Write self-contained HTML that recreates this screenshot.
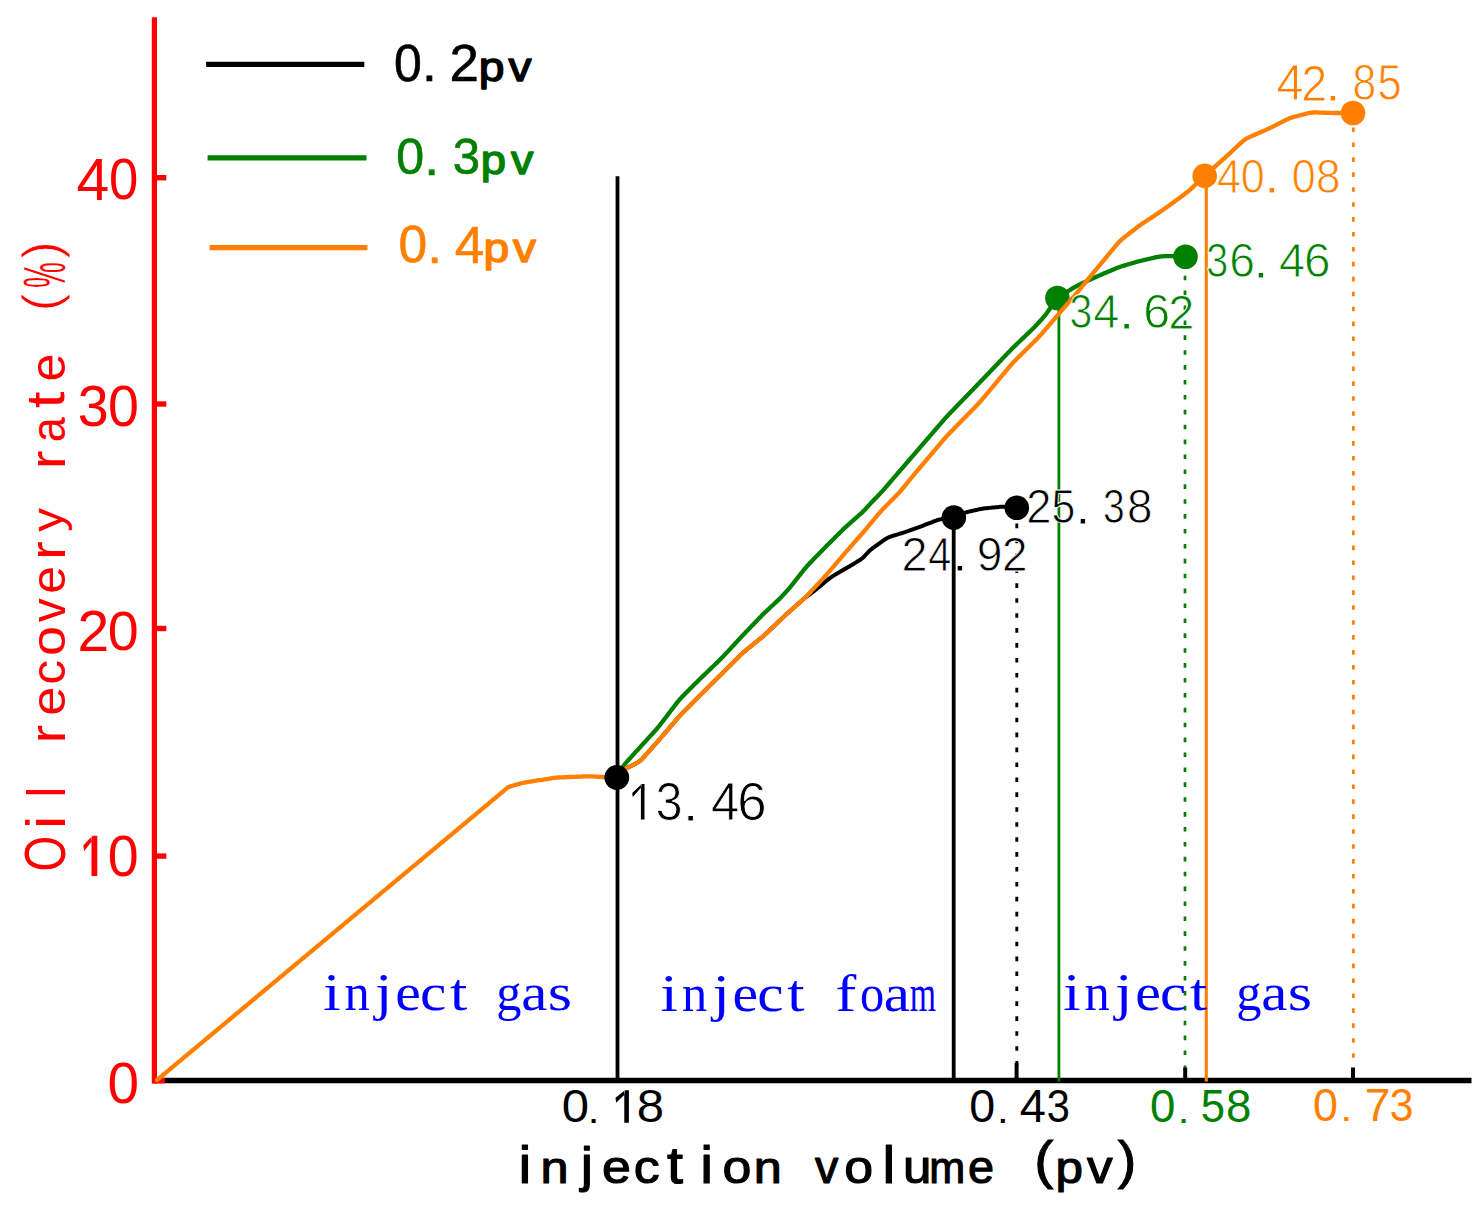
<!DOCTYPE html>
<html><head><meta charset="utf-8"><title>Oil recovery rate vs injection volume</title>
<style>html,body{margin:0;padding:0;background:#fff;}svg{display:block;}body{font-family:"Liberation Sans",sans-serif;}</style>
</head><body>
<svg width="1479" height="1207" viewBox="0 0 1479 1207"><rect width="100%" height="100%" fill="#fff"/><line x1="155" y1="1080.5" x2="1471.5" y2="1080.5" stroke="#000000" stroke-width="5.5"/>
<line x1="154.4" y1="17.3" x2="154.4" y2="1083.4" stroke="#ff0000" stroke-width="5.2"/>
<line x1="156" y1="177.7" x2="166.3" y2="177.7" stroke="#ff0000" stroke-width="5.4"/>
<line x1="156" y1="404" x2="166.3" y2="404" stroke="#ff0000" stroke-width="5.4"/>
<line x1="156" y1="628.5" x2="166.3" y2="628.5" stroke="#ff0000" stroke-width="5.4"/>
<line x1="156" y1="856.1" x2="166.3" y2="856.1" stroke="#ff0000" stroke-width="5.4"/>
<line x1="152" y1="1080.6" x2="165" y2="1080.6" stroke="#ff0000" stroke-width="5.4"/>
<line x1="617.5" y1="176.2" x2="617.5" y2="1081.5" stroke="#000000" stroke-width="3.8"/>
<line x1="953.7" y1="518" x2="953.7" y2="1081.5" stroke="#000000" stroke-width="3.8"/>
<line x1="1016.8" y1="523.6" x2="1016.8" y2="1080" stroke="#000000" stroke-width="2.9" stroke-dasharray="4.6 10.33"/>
<line x1="1058.9" y1="299" x2="1058.9" y2="1081.5" stroke="#008000" stroke-width="2.8"/>
<line x1="1185" y1="275.7" x2="1185" y2="1080" stroke="#008000" stroke-width="2.7" stroke-dasharray="4.6 10.3"/>
<line x1="1206.3" y1="176" x2="1206.3" y2="1081.5" stroke="#ff8000" stroke-width="3.1"/>
<line x1="1353.4" y1="127.5" x2="1353.4" y2="1080" stroke="#ff8000" stroke-width="2.7" stroke-dasharray="4.6 10.33"/>
<line x1="1016.6" y1="1063" x2="1016.6" y2="1080" stroke="#000000" stroke-width="4"/>
<line x1="1185.2" y1="1067.5" x2="1185.2" y2="1080" stroke="#000000" stroke-width="4"/>
<line x1="1353" y1="1067.5" x2="1353" y2="1080" stroke="#000000" stroke-width="4"/>
<polyline points="617,777 618.06,775.94 619.13,774.87 620.19,773.81 621.26,772.76 622.34,771.72 623.44,770.71 624.58,769.76 625.78,768.88 627.02,768.07 628.32,767.33 629.64,766.63 630.98,765.95 632.33,765.29 633.67,764.62 635.01,763.94 636.34,763.24 637.63,762.51 638.87,761.7 640.05,760.81 641.16,759.84 642.21,758.79 643.24,757.7 644.25,756.59 645.25,755.47 646.25,754.34 647.25,753.22 648.24,752.1 649.24,750.97 650.24,749.85 651.24,748.72 652.24,747.6 653.24,746.48 654.23,745.35 655.23,744.23 656.23,743.1 657.23,741.98 658.22,740.85 659.21,739.72 660.2,738.59 661.18,737.45 662.16,736.31 663.14,735.17 664.12,734.03 665.09,732.88 666.07,731.74 667.04,730.6 668.02,729.45 669,728.31 669.97,727.16 670.95,726.02 671.92,724.88 672.9,723.73 673.88,722.59 674.85,721.45 675.83,720.31 676.81,719.17 677.8,718.03 678.79,716.91 679.81,715.8 680.84,714.71 681.88,713.63 682.94,712.56 683.99,711.49 685.05,710.42 686.11,709.36 687.17,708.29 688.23,707.22 689.3,706.16 690.36,705.09 691.42,704.03 692.48,702.96 693.54,701.9 694.6,700.83 695.66,699.77 696.72,698.7 697.78,697.64 698.84,696.57 699.9,695.51 700.96,694.44 702.03,693.38 703.09,692.32 704.16,691.26 705.22,690.2 706.29,689.14 707.35,688.08 708.42,687.02 709.48,685.96 710.55,684.89 711.61,683.83 712.68,682.77 713.75,681.71 714.81,680.65 715.88,679.59 716.94,678.53 718.01,677.47 719.07,676.41 720.14,675.35 721.2,674.29 722.27,673.23 723.33,672.17 724.4,671.1 725.46,670.04 726.52,668.98 727.58,667.91 728.65,666.85 729.71,665.79 730.77,664.73 731.84,663.66 732.9,662.6 733.96,661.54 735.03,660.47 736.09,659.41 737.15,658.35 738.22,657.29 739.28,656.23 740.36,655.18 741.44,654.14 742.55,653.12 743.67,652.13 744.82,651.16 745.97,650.2 747.14,649.25 748.31,648.3 749.47,647.36 750.64,646.41 751.81,645.46 752.98,644.52 754.15,643.57 755.32,642.63 756.49,641.68 757.65,640.74 758.82,639.79 759.99,638.84 761.15,637.89 762.31,636.93 763.45,635.95 764.57,634.96 765.69,633.95 766.79,632.92 767.88,631.89 768.97,630.86 770.06,629.82 771.14,628.78 772.23,627.74 773.32,626.7 774.41,625.67 775.49,624.63 776.58,623.59 777.67,622.55 778.75,621.51 779.84,620.48 780.93,619.44 782.02,618.41 783.12,617.38 784.22,616.36 785.33,615.34 786.44,614.33 787.56,613.33 788.68,612.32 789.8,611.32 790.92,610.32 792.04,609.31 793.16,608.31 794.28,607.31 795.4,606.31 796.52,605.3 797.64,604.3 798.76,603.3 799.88,602.3 801,601.3 802.13,600.3 803.26,599.31 804.4,598.33 805.55,597.37 806.73,596.45 807.93,595.54 809.14,594.65 810.36,593.78 811.58,592.9 812.79,592.01 813.99,591.11 815.18,590.18 816.35,589.24 817.51,588.28 818.66,587.32 819.81,586.35 820.96,585.39 822.11,584.42 823.26,583.45 824.41,582.48 825.56,581.51 826.72,580.55 827.88,579.61 829.06,578.68 830.27,577.8 831.51,576.96 832.78,576.15 834.06,575.37 835.35,574.61 836.65,573.85 837.95,573.09 839.25,572.33 840.55,571.58 841.84,570.82 843.14,570.06 844.44,569.3 845.73,568.53 847.02,567.76 848.31,566.99 849.6,566.22 850.89,565.45 852.18,564.68 853.47,563.91 854.76,563.13 856.05,562.36 857.34,561.58 858.62,560.8 859.88,560 861.11,559.16 862.29,558.26 863.41,557.28 864.46,556.24 865.47,555.14 866.47,554.02 867.46,552.9 868.49,551.82 869.56,550.78 870.69,549.8 871.85,548.86 873.04,547.95 874.25,547.06 875.47,546.17 876.68,545.29 877.9,544.41 879.11,543.52 880.33,542.64 881.55,541.76 882.77,540.88 883.99,540.02 885.24,539.19 886.51,538.42 887.82,537.74 889.18,537.14 890.57,536.61 891.99,536.14 893.43,535.69 894.86,535.25 896.3,534.81 897.74,534.38 899.18,533.94 900.62,533.5 902.05,533.06 903.49,532.61 904.92,532.15 906.34,531.68 907.76,531.18 909.18,530.68 910.59,530.17 912.01,529.65 913.42,529.14 914.83,528.62 916.24,528.1 917.65,527.59 919.06,527.07 920.47,526.55 921.88,526.03 923.29,525.51 924.7,524.98 926.1,524.44 927.51,523.9 928.91,523.36 930.31,522.82 931.72,522.28 933.12,521.74 934.52,521.21 935.93,520.69 937.35,520.2 938.77,519.76 940.22,519.39 941.68,519.09 943.16,518.85 944.64,518.65 946.13,518.46 947.63,518.29 949.12,518.12 950.61,517.94 952.11,517.77 953.6,517.6 954.98,517 956.36,516.4 957.74,515.8 959.12,515.2 960.5,514.61 961.89,514.02 963.28,513.46 964.68,512.92 966.1,512.44 967.53,512.01 968.98,511.63 970.44,511.27 971.91,510.93 973.37,510.6 974.84,510.27 976.31,509.95 977.78,509.62 979.25,509.31 980.72,509.02 982.2,508.76 983.69,508.54 985.18,508.35 986.67,508.18 988.17,508.02 989.66,507.87 991.16,507.73 992.66,507.58 994.15,507.43 995.65,507.28 997.15,507.14 998.65,506.99 1000.14,506.86 1001.64,506.74 1003.14,506.66 1004.63,506.64 1006.13,506.68 1007.63,506.78 1009.12,506.91 1010.62,507.06 1012.11,507.21 1013.61,507.38 1015.1,507.54 1016.6,507.7" fill="none" stroke="#000000" stroke-width="4.0" stroke-linejoin="round" stroke-linecap="round"/>
<polyline points="617,777 617.72,775.68 618.45,774.37 619.17,773.05 619.9,771.74 620.63,770.43 621.38,769.13 622.16,767.85 622.98,766.6 623.84,765.39 624.75,764.21 625.71,763.05 626.69,761.92 627.69,760.8 628.69,759.69 629.71,758.58 630.72,757.47 631.73,756.36 632.74,755.25 633.76,754.14 634.77,753.03 635.78,751.92 636.8,750.81 637.81,749.7 638.82,748.6 639.84,747.49 640.85,746.38 641.86,745.27 642.88,744.16 643.89,743.05 644.9,741.94 645.91,740.83 646.93,739.72 647.94,738.61 648.95,737.5 649.97,736.39 650.98,735.29 651.99,734.18 653.01,733.07 654.02,731.95 655.02,730.84 656.02,729.72 657,728.58 657.97,727.44 658.93,726.28 659.86,725.11 660.79,723.92 661.7,722.73 662.62,721.54 663.53,720.35 664.44,719.15 665.35,717.96 666.26,716.76 667.17,715.57 668.08,714.37 668.99,713.18 669.91,711.98 670.82,710.79 671.73,709.59 672.64,708.4 673.55,707.21 674.46,706.01 675.37,704.82 676.29,703.63 677.22,702.45 678.16,701.28 679.12,700.13 680.1,699 681.12,697.89 682.15,696.8 683.19,695.73 684.25,694.66 685.31,693.59 686.37,692.53 687.43,691.47 688.49,690.41 689.56,689.34 690.62,688.28 691.68,687.22 692.74,686.16 693.8,685.1 694.87,684.03 695.93,682.97 697,681.91 698.06,680.86 699.13,679.8 700.21,678.75 701.29,677.71 702.37,676.66 703.45,675.62 704.53,674.58 705.62,673.54 706.7,672.5 707.79,671.46 708.87,670.42 709.96,669.38 711.04,668.34 712.13,667.3 713.21,666.27 714.29,665.23 715.38,664.19 716.46,663.15 717.54,662.1 718.62,661.05 719.69,660 720.75,658.94 721.8,657.86 722.84,656.78 723.87,655.69 724.9,654.59 725.92,653.49 726.94,652.39 727.96,651.29 728.98,650.19 730,649.08 731.03,647.98 732.05,646.88 733.07,645.78 734.09,644.68 735.11,643.57 736.13,642.47 737.15,641.37 738.17,640.27 739.2,639.17 740.22,638.07 741.25,636.97 742.28,635.88 743.31,634.79 744.34,633.7 745.38,632.62 746.42,631.53 747.47,630.45 748.51,629.37 749.55,628.29 750.59,627.2 751.64,626.12 752.68,625.04 753.72,623.96 754.76,622.88 755.81,621.8 756.85,620.72 757.89,619.63 758.94,618.55 759.98,617.47 761.03,616.4 762.08,615.33 763.14,614.26 764.21,613.21 765.29,612.16 766.38,611.13 767.47,610.1 768.57,609.08 769.67,608.05 770.77,607.03 771.88,606.01 772.98,604.99 774.08,603.97 775.18,602.95 776.28,601.93 777.37,600.9 778.46,599.86 779.53,598.8 780.58,597.74 781.62,596.65 782.65,595.56 783.67,594.45 784.68,593.35 785.69,592.23 786.7,591.12 787.7,590 788.69,588.87 789.67,587.73 790.64,586.59 791.59,585.42 792.53,584.26 793.47,583.08 794.4,581.9 795.33,580.72 796.25,579.54 797.18,578.36 798.11,577.18 799.04,576 799.97,574.82 800.9,573.63 801.82,572.45 802.76,571.28 803.69,570.1 804.64,568.93 805.59,567.78 806.57,566.64 807.57,565.52 808.59,564.42 809.62,563.33 810.66,562.25 811.71,561.17 812.75,560.09 813.8,559.02 814.85,557.94 815.9,556.86 816.95,555.79 818,554.71 819.05,553.64 820.1,552.56 821.15,551.49 822.2,550.41 823.25,549.34 824.3,548.27 825.35,547.19 826.4,546.12 827.46,545.06 828.52,543.99 829.58,542.92 830.64,541.86 831.7,540.8 832.76,539.74 833.83,538.67 834.89,537.61 835.95,536.55 837.01,535.49 838.07,534.43 839.14,533.36 840.2,532.3 841.27,531.24 842.34,530.19 843.42,529.15 844.5,528.11 845.6,527.09 846.72,526.08 847.84,525.08 848.97,524.09 850.1,523.1 851.23,522.12 852.37,521.13 853.5,520.15 854.63,519.16 855.77,518.18 856.9,517.19 858.03,516.2 859.16,515.21 860.28,514.21 861.38,513.2 862.47,512.16 863.53,511.1 864.56,510.02 865.58,508.92 866.59,507.81 867.6,506.69 868.61,505.58 869.62,504.47 870.65,503.38 871.68,502.29 872.72,501.2 873.77,500.13 874.82,499.05 875.86,497.97 876.91,496.9 877.96,495.82 879,494.73 880.03,493.64 881.05,492.54 882.06,491.43 883.06,490.31 884.06,489.18 885.04,488.05 886.02,486.92 887.01,485.78 887.99,484.64 888.97,483.5 889.95,482.36 890.93,481.23 891.91,480.09 892.89,478.95 893.87,477.81 894.85,476.67 895.83,475.54 896.81,474.4 897.79,473.26 898.77,472.12 899.76,470.98 900.74,469.85 901.72,468.71 902.7,467.57 903.68,466.43 904.66,465.29 905.64,464.16 906.62,463.02 907.6,461.88 908.58,460.74 909.56,459.6 910.54,458.47 911.52,457.33 912.5,456.19 913.49,455.05 914.47,453.92 915.45,452.78 916.43,451.64 917.41,450.5 918.39,449.36 919.37,448.23 920.35,447.09 921.33,445.95 922.31,444.81 923.3,443.68 924.28,442.54 925.26,441.4 926.24,440.26 927.22,439.13 928.2,437.99 929.18,436.85 930.16,435.71 931.14,434.57 932.13,433.44 933.11,432.3 934.09,431.16 935.07,430.02 936.05,428.89 937.03,427.75 938.01,426.61 938.99,425.47 939.97,424.34 940.96,423.2 941.94,422.06 942.92,420.93 943.91,419.8 944.9,418.67 945.91,417.55 946.92,416.44 947.94,415.35 948.98,414.25 950.02,413.17 951.06,412.09 952.1,411.01 953.15,409.93 954.19,408.85 955.23,407.77 956.28,406.69 957.32,405.61 958.37,404.53 959.41,403.45 960.46,402.37 961.5,401.29 962.55,400.21 963.59,399.13 964.64,398.05 965.68,396.97 966.73,395.89 967.77,394.81 968.82,393.74 969.86,392.66 970.91,391.58 971.95,390.5 973,389.42 974.04,388.34 975.08,387.26 976.13,386.18 977.17,385.1 978.22,384.02 979.26,382.94 980.3,381.85 981.34,380.77 982.38,379.68 983.42,378.6 984.46,377.51 985.5,376.43 986.53,375.34 987.57,374.26 988.61,373.17 989.65,372.09 990.69,371 991.73,369.92 992.77,368.83 993.8,367.74 994.84,366.66 995.88,365.57 996.92,364.49 997.96,363.4 999,362.32 1000.04,361.23 1001.07,360.15 1002.11,359.06 1003.15,357.98 1004.19,356.89 1005.23,355.8 1006.27,354.72 1007.31,353.63 1008.35,352.55 1009.39,351.47 1010.43,350.39 1011.48,349.31 1012.54,348.25 1013.61,347.19 1014.68,346.14 1015.76,345.09 1016.84,344.05 1017.93,343.01 1019.01,341.98 1020.1,340.94 1021.18,339.9 1022.27,338.86 1023.36,337.83 1024.44,336.79 1025.53,335.75 1026.62,334.71 1027.7,333.67 1028.79,332.64 1029.87,331.6 1030.96,330.56 1032.04,329.51 1033.11,328.46 1034.17,327.4 1035.22,326.33 1036.26,325.24 1037.28,324.15 1038.3,323.04 1039.32,321.93 1040.33,320.82 1041.33,319.71 1042.33,318.58 1043.31,317.45 1044.27,316.3 1045.21,315.13 1046.12,313.94 1047.01,312.73 1047.89,311.52 1048.76,310.29 1049.63,309.06 1050.49,307.84 1051.36,306.61 1052.22,305.38 1053.08,304.15 1053.95,302.92 1054.81,301.69 1055.67,300.46 1056.54,299.23 1057.4,298 1058.67,297.2 1059.93,296.39 1061.2,295.59 1062.47,294.79 1063.74,293.99 1065,293.18 1066.27,292.38 1067.54,291.58 1068.81,290.77 1070.07,289.97 1071.34,289.17 1072.62,288.38 1073.9,287.6 1075.19,286.84 1076.5,286.11 1077.82,285.41 1079.15,284.73 1080.5,284.08 1081.86,283.44 1083.22,282.81 1084.58,282.18 1085.94,281.55 1087.31,280.92 1088.67,280.3 1090.03,279.67 1091.39,279.04 1092.76,278.42 1094.12,277.79 1095.49,277.17 1096.86,276.56 1098.23,275.95 1099.6,275.35 1100.98,274.75 1102.36,274.16 1103.74,273.57 1105.12,272.99 1106.5,272.4 1107.88,271.82 1109.26,271.23 1110.65,270.65 1112.03,270.06 1113.41,269.48 1114.79,268.91 1116.18,268.34 1117.58,267.79 1118.98,267.26 1120.39,266.76 1121.81,266.29 1123.24,265.84 1124.68,265.4 1126.11,264.98 1127.55,264.55 1128.99,264.13 1130.43,263.71 1131.87,263.29 1133.32,262.88 1134.76,262.46 1136.2,262.05 1137.65,261.65 1139.09,261.26 1140.55,260.89 1142,260.52 1143.46,260.17 1144.92,259.83 1146.38,259.49 1147.84,259.15 1149.3,258.81 1150.76,258.47 1152.23,258.13 1153.69,257.8 1155.15,257.47 1156.62,257.15 1158.08,256.86 1159.55,256.61 1161.03,256.42 1162.52,256.29 1164.01,256.21 1165.5,256.17 1167,256.16 1168.5,256.17 1170,256.18 1171.5,256.19 1173,256.2 1174.5,256.21 1176,256.22 1177.5,256.24 1179,256.25 1180.5,256.26 1182,256.27 1183.5,256.29 1185,256.3" fill="none" stroke="#008000" stroke-width="4.3" stroke-linejoin="round" stroke-linecap="round"/>
<circle cx="1057.4" cy="298" r="12.3" fill="#008000"/>
<polyline points="157,1080 158.15,1079.04 159.3,1078.08 160.46,1077.12 161.61,1076.16 162.76,1075.2 163.91,1074.24 165.06,1073.28 166.22,1072.31 167.37,1071.35 168.52,1070.39 169.67,1069.43 170.83,1068.47 171.98,1067.51 173.13,1066.55 174.28,1065.59 175.43,1064.63 176.59,1063.67 177.74,1062.71 178.89,1061.75 180.04,1060.79 181.19,1059.83 182.35,1058.87 183.5,1057.9 184.65,1056.94 185.8,1055.98 186.96,1055.02 188.11,1054.06 189.26,1053.1 190.41,1052.14 191.56,1051.18 192.72,1050.22 193.87,1049.26 195.02,1048.3 196.17,1047.34 197.32,1046.38 198.48,1045.42 199.63,1044.46 200.78,1043.5 201.93,1042.53 203.09,1041.57 204.24,1040.61 205.39,1039.65 206.54,1038.69 207.69,1037.73 208.85,1036.77 210,1035.81 211.15,1034.85 212.3,1033.89 213.45,1032.93 214.61,1031.97 215.76,1031.01 216.91,1030.05 218.06,1029.09 219.22,1028.12 220.37,1027.16 221.52,1026.2 222.67,1025.24 223.82,1024.28 224.98,1023.32 226.13,1022.36 227.28,1021.4 228.43,1020.44 229.58,1019.48 230.74,1018.52 231.89,1017.56 233.04,1016.6 234.19,1015.64 235.34,1014.68 236.5,1013.71 237.65,1012.75 238.8,1011.79 239.95,1010.83 241.11,1009.87 242.26,1008.91 243.41,1007.95 244.56,1006.99 245.71,1006.03 246.87,1005.07 248.02,1004.11 249.17,1003.15 250.32,1002.19 251.47,1001.23 252.63,1000.27 253.78,999.3 254.93,998.34 256.08,997.38 257.24,996.42 258.39,995.46 259.54,994.5 260.69,993.54 261.84,992.58 263,991.62 264.15,990.66 265.3,989.7 266.45,988.74 267.6,987.78 268.76,986.82 269.91,985.86 271.06,984.9 272.21,983.93 273.37,982.97 274.52,982.01 275.67,981.05 276.82,980.09 277.97,979.13 279.13,978.17 280.28,977.21 281.43,976.25 282.58,975.29 283.73,974.33 284.89,973.37 286.04,972.41 287.19,971.45 288.34,970.49 289.5,969.52 290.65,968.56 291.8,967.6 292.95,966.64 294.1,965.68 295.26,964.72 296.41,963.76 297.56,962.8 298.71,961.84 299.86,960.88 301.02,959.92 302.17,958.96 303.32,958 304.47,957.04 305.62,956.08 306.78,955.11 307.93,954.15 309.08,953.19 310.23,952.23 311.39,951.27 312.54,950.31 313.69,949.35 314.84,948.39 315.99,947.43 317.15,946.47 318.3,945.51 319.45,944.55 320.6,943.59 321.75,942.63 322.91,941.67 324.06,940.7 325.21,939.74 326.36,938.78 327.52,937.82 328.67,936.86 329.82,935.9 330.97,934.94 332.12,933.98 333.28,933.02 334.43,932.06 335.58,931.1 336.73,930.14 337.88,929.18 339.04,928.22 340.19,927.26 341.34,926.3 342.49,925.33 343.65,924.37 344.8,923.41 345.95,922.45 347.1,921.49 348.25,920.53 349.41,919.57 350.56,918.61 351.71,917.65 352.86,916.69 354.01,915.73 355.17,914.77 356.32,913.81 357.47,912.85 358.62,911.89 359.78,910.92 360.93,909.96 362.08,909 363.23,908.04 364.38,907.08 365.54,906.12 366.69,905.16 367.84,904.2 368.99,903.24 370.14,902.28 371.3,901.32 372.45,900.36 373.6,899.4 374.75,898.44 375.9,897.48 377.06,896.51 378.21,895.55 379.36,894.59 380.51,893.63 381.67,892.67 382.82,891.71 383.97,890.75 385.12,889.79 386.27,888.83 387.43,887.87 388.58,886.91 389.73,885.95 390.88,884.99 392.03,884.03 393.19,883.07 394.34,882.1 395.49,881.14 396.64,880.18 397.8,879.22 398.95,878.26 400.1,877.3 401.25,876.34 402.4,875.38 403.56,874.42 404.71,873.46 405.86,872.5 407.01,871.54 408.16,870.58 409.32,869.62 410.47,868.66 411.62,867.7 412.77,866.73 413.93,865.77 415.08,864.81 416.23,863.85 417.38,862.89 418.53,861.93 419.69,860.97 420.84,860.01 421.99,859.05 423.14,858.09 424.29,857.13 425.45,856.17 426.6,855.21 427.75,854.25 428.9,853.29 430.06,852.32 431.21,851.36 432.36,850.4 433.51,849.44 434.66,848.48 435.82,847.52 436.97,846.56 438.12,845.6 439.27,844.64 440.42,843.68 441.58,842.72 442.73,841.76 443.88,840.8 445.03,839.84 446.18,838.88 447.34,837.91 448.49,836.95 449.64,835.99 450.79,835.03 451.95,834.07 453.1,833.11 454.25,832.15 455.4,831.19 456.55,830.23 457.71,829.27 458.86,828.31 460.01,827.35 461.16,826.39 462.31,825.43 463.47,824.47 464.62,823.5 465.77,822.54 466.92,821.58 468.08,820.62 469.23,819.66 470.38,818.7 471.53,817.74 472.68,816.78 473.84,815.82 474.99,814.86 476.14,813.9 477.29,812.94 478.44,811.98 479.6,811.02 480.75,810.06 481.9,809.1 483.05,808.13 484.21,807.17 485.36,806.21 486.51,805.25 487.66,804.29 488.81,803.33 489.97,802.37 491.12,801.41 492.27,800.45 493.42,799.49 494.57,798.53 495.73,797.57 496.88,796.61 498.03,795.65 499.18,794.69 500.34,793.72 501.49,792.76 502.64,791.8 503.79,790.84 504.94,789.88 506.1,788.92 507.25,787.96 508.4,787 509.84,786.57 511.28,786.15 512.72,785.72 514.16,785.29 515.6,784.87 517.04,784.45 518.49,784.03 519.94,783.64 521.39,783.28 522.85,782.95 524.33,782.66 525.8,782.39 527.28,782.15 528.77,781.9 530.25,781.67 531.73,781.43 533.22,781.19 534.7,780.96 536.18,780.72 537.67,780.48 539.15,780.24 540.63,780.01 542.12,779.77 543.6,779.53 545.08,779.3 546.57,779.06 548.05,778.82 549.54,778.59 551.02,778.36 552.51,778.14 553.99,777.93 555.48,777.76 556.98,777.62 558.47,777.52 559.97,777.44 561.47,777.36 562.97,777.3 564.47,777.24 565.97,777.17 567.48,777.11 568.98,777.05 570.48,776.99 571.98,776.93 573.48,776.86 574.98,776.8 576.48,776.74 577.98,776.68 579.48,776.61 580.99,776.55 582.49,776.49 583.99,776.43 585.49,776.38 586.99,776.34 588.49,776.32 589.99,776.34 591.49,776.38 592.99,776.45 594.49,776.53 595.99,776.63 597.49,776.73 598.99,776.82 600.49,776.91 601.98,777 603.48,777.06 604.98,777.11 606.49,777.13 607.99,777.13 609.49,777.12 610.99,777.1 612.49,777.07 614,777.05 615.5,777.02 617,777 618.06,775.94 619.13,774.88 620.19,773.81 621.26,772.76 622.34,771.72 623.44,770.71 624.58,769.76 625.77,768.88 627.02,768.07 628.31,767.33 629.64,766.64 630.97,765.96 632.32,765.29 633.66,764.62 635,763.95 636.33,763.25 637.62,762.51 638.86,761.71 640.04,760.82 641.15,759.84 642.21,758.8 643.23,757.71 644.24,756.6 645.24,755.48 646.24,754.36 647.23,753.23 648.23,752.11 649.23,750.99 650.23,749.86 651.23,748.74 652.22,747.62 653.22,746.49 654.22,745.37 655.22,744.24 656.22,743.12 657.21,742 658.21,740.87 659.2,739.74 660.18,738.61 661.17,737.47 662.15,736.33 663.12,735.19 664.1,734.05 665.07,732.9 666.05,731.76 667.02,730.62 668,729.47 668.98,728.33 669.95,727.19 670.93,726.05 671.9,724.9 672.88,723.76 673.85,722.62 674.83,721.47 675.81,720.33 676.79,719.19 677.77,718.06 678.77,716.94 679.78,715.83 680.81,714.74 681.86,713.66 682.91,712.58 683.96,711.52 685.02,710.45 686.08,709.39 687.14,708.32 688.2,707.26 689.26,706.19 690.32,705.13 691.38,704.06 692.44,703 693.5,701.93 694.56,700.87 695.62,699.8 696.68,698.74 697.74,697.67 698.81,696.61 699.87,695.54 700.93,694.48 701.99,693.42 703.06,692.36 704.12,691.3 705.18,690.24 706.25,689.17 707.31,688.11 708.38,687.05 709.44,685.99 710.51,684.93 711.57,683.87 712.64,682.81 713.7,681.75 714.77,680.69 715.83,679.63 716.9,678.57 717.96,677.51 719.03,676.45 720.09,675.39 721.16,674.33 722.22,673.27 723.29,672.21 724.35,671.15 725.41,670.09 726.48,669.02 727.54,667.96 728.6,666.9 729.66,665.84 730.73,664.77 731.79,663.71 732.85,662.65 733.91,661.59 734.98,660.52 736.04,659.46 737.1,658.4 738.16,657.34 739.23,656.28 740.3,655.23 741.39,654.19 742.49,653.17 743.62,652.18 744.76,651.21 745.92,650.25 747.08,649.3 748.25,648.35 749.41,647.41 750.58,646.46 751.75,645.51 752.92,644.57 754.08,643.62 755.25,642.68 756.42,641.73 757.59,640.79 758.76,639.84 759.92,638.89 761.08,637.94 762.24,636.98 763.38,636.01 764.51,635.02 765.62,634.01 766.72,632.98 767.81,631.95 768.9,630.92 769.99,629.88 771.08,628.84 772.16,627.81 773.25,626.77 774.34,625.73 775.42,624.69 776.51,623.66 777.6,622.62 778.68,621.58 779.77,620.54 780.86,619.51 781.95,618.47 783.05,617.45 784.15,616.42 785.26,615.41 786.37,614.4 787.49,613.39 788.6,612.39 789.72,611.39 790.84,610.39 791.96,609.38 793.08,608.38 794.2,607.38 795.32,606.38 796.44,605.38 797.56,604.37 798.68,603.37 799.8,602.37 800.92,601.37 802.04,600.36 803.15,599.35 804.25,598.33 805.34,597.3 806.41,596.24 807.46,595.17 808.5,594.09 809.53,592.99 810.56,591.9 811.58,590.8 812.61,589.7 813.63,588.6 814.66,587.5 815.68,586.4 816.71,585.3 817.73,584.21 818.76,583.11 819.78,582.01 820.8,580.91 821.83,579.81 822.85,578.71 823.87,577.61 824.89,576.5 825.9,575.39 826.9,574.27 827.89,573.14 828.87,572 829.85,570.86 830.83,569.72 831.8,568.57 832.77,567.43 833.75,566.28 834.72,565.14 835.7,564 836.67,562.85 837.64,561.71 838.62,560.56 839.59,559.42 840.57,558.27 841.54,557.13 842.52,555.99 843.49,554.85 844.47,553.71 845.46,552.57 846.44,551.44 847.43,550.31 848.42,549.18 849.42,548.05 850.41,546.92 851.4,545.79 852.39,544.66 853.39,543.54 854.38,542.41 855.37,541.28 856.36,540.15 857.35,539.02 858.35,537.89 859.34,536.76 860.33,535.63 861.32,534.5 862.3,533.37 863.28,532.23 864.25,531.08 865.22,529.93 866.19,528.78 867.15,527.63 868.12,526.48 869.08,525.32 870.04,524.17 871.01,523.02 871.97,521.87 872.93,520.71 873.9,519.56 874.86,518.41 875.82,517.25 876.79,516.1 877.75,514.95 878.72,513.8 879.7,512.66 880.69,511.53 881.7,510.42 882.72,509.32 883.77,508.24 884.82,507.17 885.88,506.1 886.93,505.04 887.99,503.97 889.05,502.9 890.11,501.84 891.17,500.77 892.23,499.71 893.29,498.64 894.35,497.58 895.41,496.51 896.46,495.44 897.51,494.36 898.54,493.27 899.55,492.16 900.54,491.03 901.51,489.89 902.47,488.73 903.42,487.57 904.37,486.4 905.31,485.24 906.26,484.07 907.21,482.9 908.16,481.74 909.1,480.57 910.05,479.41 911.01,478.24 911.96,477.08 912.92,475.93 913.89,474.78 914.86,473.63 915.83,472.48 916.8,471.33 917.77,470.19 918.74,469.04 919.71,467.89 920.68,466.75 921.65,465.6 922.62,464.45 923.6,463.31 924.57,462.16 925.54,461.01 926.51,459.87 927.48,458.72 928.45,457.57 929.42,456.43 930.39,455.28 931.36,454.13 932.34,452.99 933.31,451.84 934.28,450.69 935.25,449.55 936.22,448.4 937.19,447.25 938.16,446.11 939.13,444.96 940.11,443.81 941.08,442.67 942.05,441.52 943.02,440.38 944,439.24 944.98,438.1 945.98,436.98 947,435.87 948.02,434.78 949.06,433.69 950.11,432.61 951.16,431.54 952.21,430.47 953.26,429.39 954.31,428.32 955.36,427.24 956.41,426.17 957.47,425.1 958.52,424.02 959.57,422.95 960.62,421.88 961.67,420.8 962.72,419.73 963.77,418.66 964.83,417.58 965.88,416.51 966.93,415.44 967.98,414.36 969.03,413.29 970.08,412.21 971.13,411.14 972.19,410.07 973.24,408.99 974.29,407.92 975.34,406.85 976.38,405.77 977.43,404.68 978.46,403.59 979.47,402.48 980.47,401.36 981.45,400.22 982.42,399.08 983.39,397.93 984.35,396.78 985.32,395.63 986.28,394.47 987.24,393.32 988.21,392.17 989.17,391.01 990.14,389.86 991.1,388.71 992.06,387.56 993.03,386.4 993.99,385.25 994.96,384.1 995.92,382.95 996.88,381.79 997.85,380.64 998.81,379.49 999.78,378.33 1000.74,377.18 1001.7,376.03 1002.67,374.88 1003.63,373.72 1004.6,372.57 1005.56,371.42 1006.52,370.27 1007.49,369.11 1008.45,367.96 1009.42,366.81 1010.39,365.67 1011.38,364.53 1012.38,363.41 1013.4,362.31 1014.44,361.23 1015.49,360.16 1016.55,359.1 1017.62,358.04 1018.69,356.98 1019.75,355.92 1020.82,354.87 1021.89,353.81 1022.96,352.75 1024.03,351.7 1025.1,350.64 1026.16,349.58 1027.23,348.53 1028.3,347.47 1029.37,346.41 1030.44,345.36 1031.51,344.3 1032.57,343.24 1033.64,342.19 1034.71,341.13 1035.78,340.07 1036.84,339.01 1037.9,337.94 1038.94,336.87 1039.97,335.77 1040.98,334.66 1041.98,333.53 1042.96,332.4 1043.94,331.26 1044.91,330.11 1045.88,328.97 1046.86,327.83 1047.83,326.68 1048.81,325.54 1049.78,324.39 1050.76,323.25 1051.73,322.11 1052.7,320.96 1053.68,319.82 1054.66,318.68 1055.63,317.54 1056.61,316.4 1057.59,315.26 1058.57,314.12 1059.55,312.98 1060.53,311.84 1061.51,310.7 1062.49,309.56 1063.47,308.42 1064.46,307.29 1065.44,306.15 1066.42,305.01 1067.4,303.87 1068.38,302.73 1069.36,301.59 1070.34,300.46 1071.32,299.32 1072.3,298.18 1073.28,297.04 1074.26,295.9 1075.24,294.76 1076.22,293.62 1077.19,292.47 1078.15,291.32 1079.11,290.16 1080.06,289 1081.01,287.83 1081.96,286.67 1082.91,285.51 1083.86,284.34 1084.81,283.18 1085.77,282.02 1086.72,280.85 1087.67,279.69 1088.62,278.53 1089.57,277.37 1090.53,276.21 1091.49,275.05 1092.45,273.89 1093.41,272.74 1094.37,271.58 1095.32,270.42 1096.28,269.27 1097.24,268.11 1098.2,266.95 1099.16,265.8 1100.12,264.64 1101.08,263.49 1102.04,262.33 1103,261.17 1103.96,260.02 1104.92,258.86 1105.88,257.7 1106.84,256.54 1107.79,255.39 1108.75,254.23 1109.71,253.07 1110.66,251.91 1111.62,250.75 1112.58,249.59 1113.53,248.43 1114.49,247.27 1115.45,246.12 1116.41,244.97 1117.39,243.83 1118.39,242.71 1119.42,241.63 1120.5,240.6 1121.62,239.61 1122.77,238.65 1123.94,237.71 1125.12,236.77 1126.3,235.84 1127.47,234.91 1128.65,233.98 1129.83,233.05 1131.01,232.12 1132.19,231.19 1133.37,230.26 1134.55,229.33 1135.74,228.4 1136.92,227.48 1138.12,226.57 1139.33,225.68 1140.56,224.82 1141.8,223.97 1143.05,223.14 1144.3,222.31 1145.56,221.49 1146.82,220.67 1148.08,219.85 1149.34,219.03 1150.6,218.21 1151.86,217.39 1153.11,216.57 1154.37,215.74 1155.62,214.91 1156.86,214.07 1158.1,213.22 1159.34,212.36 1160.57,211.5 1161.8,210.64 1163.04,209.78 1164.27,208.92 1165.5,208.06 1166.73,207.2 1167.96,206.34 1169.19,205.48 1170.42,204.61 1171.64,203.74 1172.86,202.86 1174.07,201.97 1175.28,201.08 1176.48,200.18 1177.69,199.28 1178.89,198.37 1180.09,197.47 1181.29,196.57 1182.49,195.67 1183.69,194.76 1184.89,193.86 1186.08,192.94 1187.27,192.02 1188.43,191.08 1189.58,190.11 1190.7,189.11 1191.81,188.1 1192.91,187.08 1194,186.04 1195.09,185.01 1196.18,183.98 1197.27,182.94 1198.36,181.91 1199.45,180.87 1200.54,179.84 1201.63,178.8 1202.72,177.77 1203.81,176.73 1204.9,175.7 1206.02,174.7 1207.14,173.7 1208.26,172.7 1209.38,171.7 1210.5,170.7 1211.62,169.7 1212.74,168.7 1213.86,167.7 1214.98,166.7 1216.1,165.7 1217.22,164.7 1218.34,163.7 1219.46,162.7 1220.58,161.7 1221.7,160.69 1222.81,159.68 1223.92,158.67 1225.02,157.65 1226.13,156.63 1227.23,155.62 1228.33,154.6 1229.43,153.58 1230.54,152.56 1231.64,151.54 1232.74,150.52 1233.84,149.5 1234.95,148.48 1236.05,147.46 1237.15,146.44 1238.25,145.42 1239.35,144.4 1240.46,143.38 1241.57,142.37 1242.69,141.38 1243.84,140.43 1245.03,139.54 1246.27,138.74 1247.56,138.01 1248.89,137.34 1250.25,136.71 1251.62,136.11 1253,135.51 1254.38,134.91 1255.75,134.31 1257.13,133.71 1258.51,133.12 1259.89,132.52 1261.26,131.92 1262.64,131.32 1264.02,130.72 1265.39,130.11 1266.76,129.5 1268.12,128.87 1269.48,128.22 1270.83,127.57 1272.17,126.9 1273.52,126.23 1274.86,125.56 1276.2,124.88 1277.54,124.21 1278.88,123.53 1280.23,122.86 1281.57,122.19 1282.91,121.51 1284.25,120.84 1285.6,120.17 1286.95,119.52 1288.31,118.89 1289.68,118.31 1291.08,117.79 1292.5,117.32 1293.94,116.89 1295.38,116.49 1296.83,116.11 1298.29,115.73 1299.74,115.35 1301.19,114.97 1302.65,114.6 1304.1,114.22 1305.55,113.85 1307.01,113.49 1308.47,113.15 1309.93,112.87 1311.4,112.65 1312.88,112.52 1314.37,112.47 1315.87,112.47 1317.37,112.5 1318.87,112.55 1320.37,112.6 1321.87,112.65 1323.37,112.7 1324.87,112.75 1326.37,112.8 1327.87,112.84 1329.37,112.89 1330.88,112.93 1332.38,112.96 1333.88,112.98 1335.38,112.99 1336.88,113 1338.38,113 1339.88,113 1341.39,113 1342.89,113 1344.39,113 1345.89,113 1347.39,113 1348.89,113 1350.4,113 1351.9,113 1353.4,113" fill="none" stroke="#ff8000" stroke-width="4.3" stroke-linejoin="round" stroke-linecap="round"/>
<circle cx="1185.5" cy="256.7" r="12.3" fill="#008000"/>
<circle cx="616.8" cy="777.5" r="12.4" fill="#000000"/>
<circle cx="953.8" cy="517.6" r="12.3" fill="#000000"/>
<circle cx="1016.8" cy="507.7" r="12.3" fill="#000000"/>
<circle cx="1204.7" cy="175.9" r="12.3" fill="#ff8000"/>
<circle cx="1353" cy="113" r="12.3" fill="#ff8000"/>
<line x1="206.1" y1="64.3" x2="364.3" y2="64.3" stroke="#000000" stroke-width="5.2"/>
<line x1="207.6" y1="157.9" x2="366.5" y2="157.9" stroke="#008000" stroke-width="5.2"/>
<line x1="209.6" y1="247.7" x2="367.4" y2="247.7" stroke="#ff8000" stroke-width="5.2"/>
<text transform="translate(76.45 199.6)" font-family="Liberation Sans" font-weight="normal" font-size="58.87" fill="#ff0000">4</text>
<text transform="translate(109.04 199.04) scale(0.92 1)" font-family="Liberation Sans" font-weight="normal" font-size="57.2" fill="#ff0000">0</text>
<text transform="translate(77.78 425.84) scale(0.97 1)" font-family="Liberation Sans" font-weight="normal" font-size="57.34" fill="#ff0000">3</text>
<text transform="translate(108.03 425.84) scale(0.97 1)" font-family="Liberation Sans" font-weight="normal" font-size="57.34" fill="#ff0000">0</text>
<text transform="translate(77.43 650.9)" font-family="Liberation Sans" font-weight="normal" font-size="57" fill="#ff0000">2</text>
<text transform="translate(107.82 650.35) scale(0.99 1)" font-family="Liberation Sans" font-weight="normal" font-size="56.21" fill="#ff0000">0</text>
<path d="M91.5,835.7H97.3V876.1H91.5Z M92.3,835.7L83.4,845.14L84,851.31L91.7,841.55Z" fill="#ff0000"/>
<text transform="translate(107.82 876.14) scale(0.97 1)" font-family="Liberation Sans" font-weight="normal" font-size="57.34" fill="#ff0000">0</text>
<text transform="translate(107.48 1103.14) scale(0.99 1)" font-family="Liberation Sans" font-weight="normal" font-size="57.34" fill="#ff0000">0</text>
<text transform="translate(561.78 1122.45) scale(1.06 1)" font-family="Liberation Sans" font-weight="normal" font-size="46.33" fill="#000000">0</text>
<text transform="translate(587.78 1122.8) scale(1.12 1)" font-family="Liberation Sans" font-weight="normal" font-size="37.41" fill="#000000">.</text>
<path d="M624.3,1090.2H628.9V1122.8H624.3Z M625.1,1090.2L615.5,1097.86L616.1,1102.75L624.5,1094.84Z" fill="#000000"/>
<text transform="translate(636.67 1122.45) scale(1.06 1)" font-family="Liberation Sans" font-weight="normal" font-size="46.33" fill="#000000">8</text>
<text transform="translate(969.17 1122.45) scale(1.01 1)" font-family="Liberation Sans" font-weight="normal" font-size="46.19" fill="#000000">0</text>
<text transform="translate(996.88 1122.8) scale(1.12 1)" font-family="Liberation Sans" font-weight="normal" font-size="37.41" fill="#000000">.</text>
<text transform="translate(1019.63 1122.4) scale(1.02 1)" font-family="Liberation Sans" font-weight="normal" font-size="46.08" fill="#000000">4</text>
<text transform="translate(1046.71 1122.45) scale(0.9 1)" font-family="Liberation Sans" font-weight="normal" font-size="46.19" fill="#000000">3</text>
<text transform="translate(1150.01 1122.44) scale(0.97 1)" font-family="Liberation Sans" font-weight="normal" font-size="47.03" fill="#008000">0</text>
<text transform="translate(1177.68 1122.8) scale(1.12 1)" font-family="Liberation Sans" font-weight="normal" font-size="37.41" fill="#008000">.</text>
<text transform="translate(1200.84 1122.44) scale(0.93 1)" font-family="Liberation Sans" font-weight="normal" font-size="47.01" fill="#008000">5</text>
<text transform="translate(1226.02 1122.44) scale(0.97 1)" font-family="Liberation Sans" font-weight="normal" font-size="47.03" fill="#008000">8</text>
<text transform="translate(1312.94 1120.94) scale(0.96 1)" font-family="Liberation Sans" font-weight="normal" font-size="46.75" fill="#ff8000">0</text>
<text transform="translate(1340.38 1121.3) scale(1.12 1)" font-family="Liberation Sans" font-weight="normal" font-size="37.41" fill="#ff8000">.</text>
<text transform="translate(1364.74 1120.9) scale(0.99 1)" font-family="Liberation Sans" font-weight="normal" font-size="46.66" fill="#ff8000">7</text>
<text transform="translate(1389.78 1120.94) scale(0.91 1)" font-family="Liberation Sans" font-weight="normal" font-size="46.75" fill="#ff8000">3</text>
<path d="M640.9,783.9H644.5V819.6H640.9Z M641.7,783.9L632.2,793.05L632.8,796.88L641.1,787.53Z" fill="#000000"/>
<text transform="translate(655.45 820.08) scale(0.91 1)" font-family="Liberation Sans" font-weight="normal" font-size="53.39" fill="#000000" stroke="#fff" stroke-width="0.9">3</text>
<text transform="translate(682.6 820.8) scale(1.12 1)" font-family="Liberation Sans" font-weight="normal" font-size="52.37" fill="#000000" stroke="#fff" stroke-width="0.9">.</text>
<text transform="translate(710.93 820.2) scale(0.95 1)" font-family="Liberation Sans" font-weight="normal" font-size="53.63" fill="#000000" stroke="#fff" stroke-width="0.9">4</text>
<text transform="translate(737.13 820.08) scale(0.99 1)" font-family="Liberation Sans" font-weight="normal" font-size="53.39" fill="#000000" stroke="#fff" stroke-width="0.9">6</text>
<text transform="translate(901.54 571) scale(0.96 1)" font-family="Liberation Sans" font-weight="normal" font-size="48.84" fill="#000000" stroke="#fff" stroke-width="0.9">2</text>
<text transform="translate(928.35 570.6) scale(0.86 1)" font-family="Liberation Sans" font-weight="normal" font-size="48.26" fill="#000000" stroke="#fff" stroke-width="0.9">4</text>
<text transform="translate(951.85 571.2) scale(1.12 1)" font-family="Liberation Sans" font-weight="normal" font-size="52.37" fill="#000000" stroke="#fff" stroke-width="0.9">.</text>
<text transform="translate(976.73 570.53) scale(0.96 1)" font-family="Liberation Sans" font-weight="normal" font-size="48.16" fill="#000000" stroke="#fff" stroke-width="0.9">9</text>
<text transform="translate(1001.99 571) scale(0.94 1)" font-family="Liberation Sans" font-weight="normal" font-size="48.84" fill="#000000" stroke="#fff" stroke-width="0.9">2</text>
<text transform="translate(1026.2 523.4) scale(0.93 1)" font-family="Liberation Sans" font-weight="normal" font-size="48.84" fill="#000000" stroke="#fff" stroke-width="0.9">2</text>
<text transform="translate(1051.58 522.93) scale(0.89 1)" font-family="Liberation Sans" font-weight="normal" font-size="48.15" fill="#000000" stroke="#fff" stroke-width="0.9">5</text>
<text transform="translate(1074.65 523.6) scale(1.12 1)" font-family="Liberation Sans" font-weight="normal" font-size="52.37" fill="#000000" stroke="#fff" stroke-width="0.9">.</text>
<text transform="translate(1103.02 522.93) scale(0.81 1)" font-family="Liberation Sans" font-weight="normal" font-size="48.16" fill="#000000" stroke="#fff" stroke-width="0.9">3</text>
<text transform="translate(1126.92 522.93) scale(0.95 1)" font-family="Liberation Sans" font-weight="normal" font-size="48.16" fill="#000000" stroke="#fff" stroke-width="0.9">8</text>
<text transform="translate(1069.53 328.13) scale(0.85 1)" font-family="Liberation Sans" font-weight="normal" font-size="48.3" fill="#008000" stroke="#fff" stroke-width="0.9">3</text>
<text transform="translate(1093.22 328.2) scale(0.97 1)" font-family="Liberation Sans" font-weight="normal" font-size="48.4" fill="#008000" stroke="#fff" stroke-width="0.9">4</text>
<text transform="translate(1118.6 328.8) scale(1.12 1)" font-family="Liberation Sans" font-weight="normal" font-size="52.37" fill="#008000" stroke="#fff" stroke-width="0.9">.</text>
<text transform="translate(1143.33 328.13)" font-family="Liberation Sans" font-weight="normal" font-size="48.3" fill="#008000" stroke="#fff" stroke-width="0.9">6</text>
<text transform="translate(1168.14 328.6) scale(0.96 1)" font-family="Liberation Sans" font-weight="normal" font-size="48.98" fill="#008000" stroke="#fff" stroke-width="0.9">2</text>
<text transform="translate(1206.29 277.33) scale(0.82 1)" font-family="Liberation Sans" font-weight="normal" font-size="48.16" fill="#008000" stroke="#fff" stroke-width="0.9">3</text>
<text transform="translate(1229.16 277.33) scale(0.96 1)" font-family="Liberation Sans" font-weight="normal" font-size="48.16" fill="#008000" stroke="#fff" stroke-width="0.9">6</text>
<text transform="translate(1252.85 278) scale(1.12 1)" font-family="Liberation Sans" font-weight="normal" font-size="52.37" fill="#008000" stroke="#fff" stroke-width="0.9">.</text>
<text transform="translate(1279.12 277.4) scale(0.97 1)" font-family="Liberation Sans" font-weight="normal" font-size="48.26" fill="#008000" stroke="#fff" stroke-width="0.9">4</text>
<text transform="translate(1303.88 277.33) scale(0.99 1)" font-family="Liberation Sans" font-weight="normal" font-size="48.16" fill="#008000" stroke="#fff" stroke-width="0.9">6</text>
<text transform="translate(1217 192.8) scale(0.9 1)" font-family="Liberation Sans" font-weight="normal" font-size="48.11" fill="#ff8000" stroke="#fff" stroke-width="0.9">4</text>
<text transform="translate(1240.71 192.73) scale(0.9 1)" font-family="Liberation Sans" font-weight="normal" font-size="48.02" fill="#ff8000" stroke="#fff" stroke-width="0.9">0</text>
<text transform="translate(1263.7 193.4) scale(1.12 1)" font-family="Liberation Sans" font-weight="normal" font-size="52.37" fill="#ff8000" stroke="#fff" stroke-width="0.9">.</text>
<text transform="translate(1291.81 192.73) scale(0.9 1)" font-family="Liberation Sans" font-weight="normal" font-size="48.02" fill="#ff8000" stroke="#fff" stroke-width="0.9">0</text>
<text transform="translate(1315.88 192.73) scale(0.92 1)" font-family="Liberation Sans" font-weight="normal" font-size="48.02" fill="#ff8000" stroke="#fff" stroke-width="0.9">8</text>
<text transform="translate(1276.39 100.2) scale(0.99 1)" font-family="Liberation Sans" font-weight="normal" font-size="49.13" fill="#ff8000" stroke="#fff" stroke-width="0.9">4</text>
<text transform="translate(1301.16 100.6) scale(0.94 1)" font-family="Liberation Sans" font-weight="normal" font-size="49.7" fill="#ff8000" stroke="#fff" stroke-width="0.9">2</text>
<text transform="translate(1324.85 100.8) scale(1.12 1)" font-family="Liberation Sans" font-weight="normal" font-size="52.37" fill="#ff8000" stroke="#fff" stroke-width="0.9">.</text>
<text transform="translate(1352.55 100.12) scale(0.87 1)" font-family="Liberation Sans" font-weight="normal" font-size="49.01" fill="#ff8000" stroke="#fff" stroke-width="0.9">8</text>
<text transform="translate(1377.46 100.12) scale(0.89 1)" font-family="Liberation Sans" font-weight="normal" font-size="49.01" fill="#ff8000" stroke="#fff" stroke-width="0.9">5</text>
<text transform="translate(394.04 80.9) scale(0.97 1)" font-family="Liberation Sans" font-weight="normal" font-size="51.55" fill="#000000" stroke="#000000" stroke-width="0.6">0</text>
<text transform="translate(421.93 81.4) scale(1.12 1)" font-family="Liberation Sans" font-weight="normal" font-size="47.69" fill="#000000" stroke="#000000" stroke-width="0.6">.</text>
<text transform="translate(449.54 81.4) scale(1.01 1)" font-family="Liberation Sans" font-weight="normal" font-size="52.27" fill="#000000" stroke="#000000" stroke-width="0.6">2</text>
<text transform="translate(478.71 80.52) scale(1.12 1)" font-family="Liberation Sans" font-weight="normal" font-size="41.34" fill="#000000" stroke="#000000" stroke-width="1.4" stroke-linejoin="round">p</text>
<text transform="translate(508.45 80.6) scale(1.12 1)" font-family="Liberation Sans" font-weight="normal" font-size="41.07" fill="#000000" stroke="#000000" stroke-width="1.4" stroke-linejoin="round">v</text>
<text transform="translate(396.13 174.2) scale(0.99 1)" font-family="Liberation Sans" font-weight="normal" font-size="50.71" fill="#008000" stroke="#008000" stroke-width="0.6">0</text>
<text transform="translate(424.18 174.7) scale(1.12 1)" font-family="Liberation Sans" font-weight="normal" font-size="47.69" fill="#008000" stroke="#008000" stroke-width="0.6">.</text>
<text transform="translate(452.82 174.2) scale(0.97 1)" font-family="Liberation Sans" font-weight="normal" font-size="50.71" fill="#008000" stroke="#008000" stroke-width="0.6">3</text>
<text transform="translate(480.67 173.99) scale(1.12 1)" font-family="Liberation Sans" font-weight="normal" font-size="40.53" fill="#008000" stroke="#008000" stroke-width="1.4" stroke-linejoin="round">p</text>
<text transform="translate(510.95 173.9) scale(1.12 1)" font-family="Liberation Sans" font-weight="normal" font-size="39.94" fill="#008000" stroke="#008000" stroke-width="1.4" stroke-linejoin="round">v</text>
<text transform="translate(398.58 262.4)" font-family="Liberation Sans" font-weight="normal" font-size="51.55" fill="#ff8000" stroke="#ff8000" stroke-width="0.6">0</text>
<text transform="translate(427.28 262.9) scale(1.12 1)" font-family="Liberation Sans" font-weight="normal" font-size="47.69" fill="#ff8000" stroke="#ff8000" stroke-width="0.6">.</text>
<text transform="translate(454.69 262.9) scale(1.01 1)" font-family="Liberation Sans" font-weight="normal" font-size="52.33" fill="#ff8000" stroke="#ff8000" stroke-width="0.6">4</text>
<text transform="translate(483.46 262.02) scale(1.12 1)" font-family="Liberation Sans" font-weight="normal" font-size="41.34" fill="#ff8000" stroke="#ff8000" stroke-width="1.4" stroke-linejoin="round">p</text>
<text transform="translate(513.05 262.1) scale(1.12 1)" font-family="Liberation Sans" font-weight="normal" font-size="41.07" fill="#ff8000" stroke="#ff8000" stroke-width="1.4" stroke-linejoin="round">v</text>
<text transform="translate(323.27 1010.2) scale(1.2 1)" font-family="Liberation Serif" font-weight="normal" font-size="52" fill="#0000ff">i</text>
<text transform="translate(344.6 1010.2) scale(0.97 1)" font-family="Liberation Serif" font-weight="normal" font-size="52" fill="#0000ff">n</text>
<text transform="translate(375.11 1010.2) scale(1.2 1)" font-family="Liberation Serif" font-weight="normal" font-size="52" fill="#0000ff">j</text>
<text transform="translate(395.15 1010.2) scale(1.11 1)" font-family="Liberation Serif" font-weight="normal" font-size="52" fill="#0000ff">e</text>
<text transform="translate(419.99 1010.2) scale(1.14 1)" font-family="Liberation Serif" font-weight="normal" font-size="52" fill="#0000ff">c</text>
<text transform="translate(449.96 1010.2) scale(1.2 1)" font-family="Liberation Serif" font-weight="normal" font-size="52" fill="#0000ff">t</text>
<text transform="translate(496.17 1010.2) scale(0.97 1)" font-family="Liberation Serif" font-weight="normal" font-size="52" fill="#0000ff">g</text>
<text transform="translate(521.14 1010.2) scale(1.13 1)" font-family="Liberation Serif" font-weight="normal" font-size="52" fill="#0000ff">a</text>
<text transform="translate(547.86 1010.2) scale(1.2 1)" font-family="Liberation Serif" font-weight="normal" font-size="52" fill="#0000ff">s</text>
<text transform="translate(660.57 1010.6) scale(1.2 1)" font-family="Liberation Serif" font-weight="normal" font-size="52" fill="#0000ff">i</text>
<text transform="translate(681.9 1010.6) scale(0.97 1)" font-family="Liberation Serif" font-weight="normal" font-size="52" fill="#0000ff">n</text>
<text transform="translate(712.41 1010.6) scale(1.2 1)" font-family="Liberation Serif" font-weight="normal" font-size="52" fill="#0000ff">j</text>
<text transform="translate(732.45 1010.6) scale(1.11 1)" font-family="Liberation Serif" font-weight="normal" font-size="52" fill="#0000ff">e</text>
<text transform="translate(757.29 1010.6) scale(1.14 1)" font-family="Liberation Serif" font-weight="normal" font-size="52" fill="#0000ff">c</text>
<text transform="translate(787.26 1010.6) scale(1.2 1)" font-family="Liberation Serif" font-weight="normal" font-size="52" fill="#0000ff">t</text>
<text transform="translate(835.4 1010.6) scale(1.2 1)" font-family="Liberation Serif" font-weight="normal" font-size="52" fill="#0000ff">f</text>
<text transform="translate(860.01 1010.6) scale(0.93 1)" font-family="Liberation Serif" font-weight="normal" font-size="52" fill="#0000ff">o</text>
<text transform="translate(883.79 1010.6) scale(1.13 1)" font-family="Liberation Serif" font-weight="normal" font-size="52" fill="#0000ff">a</text>
<text transform="translate(909.64 1010.6) scale(0.65 1)" font-family="Liberation Serif" font-weight="normal" font-size="52" fill="#0000ff">m</text>
<text transform="translate(1063.27 1010.2) scale(1.2 1)" font-family="Liberation Serif" font-weight="normal" font-size="52" fill="#0000ff">i</text>
<text transform="translate(1084.6 1010.2) scale(0.97 1)" font-family="Liberation Serif" font-weight="normal" font-size="52" fill="#0000ff">n</text>
<text transform="translate(1115.11 1010.2) scale(1.2 1)" font-family="Liberation Serif" font-weight="normal" font-size="52" fill="#0000ff">j</text>
<text transform="translate(1135.15 1010.2) scale(1.11 1)" font-family="Liberation Serif" font-weight="normal" font-size="52" fill="#0000ff">e</text>
<text transform="translate(1159.99 1010.2) scale(1.14 1)" font-family="Liberation Serif" font-weight="normal" font-size="52" fill="#0000ff">c</text>
<text transform="translate(1189.96 1010.2) scale(1.2 1)" font-family="Liberation Serif" font-weight="normal" font-size="52" fill="#0000ff">t</text>
<text transform="translate(1236.17 1010.2) scale(0.97 1)" font-family="Liberation Serif" font-weight="normal" font-size="52" fill="#0000ff">g</text>
<text transform="translate(1261.14 1010.2) scale(1.13 1)" font-family="Liberation Serif" font-weight="normal" font-size="52" fill="#0000ff">a</text>
<text transform="translate(1287.86 1010.2) scale(1.2 1)" font-family="Liberation Serif" font-weight="normal" font-size="52" fill="#0000ff">s</text>
<text transform="translate(518.51 1183.2) scale(1.12 1)" font-family="Liberation Sans" font-weight="normal" font-size="51.48" fill="#000000" stroke="#000" stroke-width="1.1" stroke-linejoin="round">i</text>
<text transform="translate(540.61 1183.2) scale(1.12 1)" font-family="Liberation Sans" font-weight="normal" font-size="44.97" fill="#000000" stroke="#000" stroke-width="1.1" stroke-linejoin="round">n</text>
<text transform="translate(580.75 1181.58) scale(1.12 1)" font-family="Liberation Sans" font-weight="normal" font-size="49.24" fill="#000000" stroke="#000" stroke-width="1.1" stroke-linejoin="round">j</text>
<text transform="translate(601.91 1183.35) scale(1.12 1)" font-family="Liberation Sans" font-weight="normal" font-size="46.36" fill="#000000" stroke="#000" stroke-width="1.1" stroke-linejoin="round">e</text>
<text transform="translate(633.7 1183.35) scale(1.12 1)" font-family="Liberation Sans" font-weight="normal" font-size="46.36" fill="#000000" stroke="#000" stroke-width="1.1" stroke-linejoin="round">c</text>
<text transform="translate(667.01 1183.2) scale(1.12 1)" font-family="Liberation Sans" font-weight="normal" font-size="51.51" fill="#000000" stroke="#000" stroke-width="1.1" stroke-linejoin="round">t</text>
<text transform="translate(700.26 1183.2) scale(1.12 1)" font-family="Liberation Sans" font-weight="normal" font-size="51.48" fill="#000000" stroke="#000" stroke-width="1.1" stroke-linejoin="round">i</text>
<text transform="translate(722.46 1183.35) scale(1.12 1)" font-family="Liberation Sans" font-weight="normal" font-size="46.36" fill="#000000" stroke="#000" stroke-width="1.1" stroke-linejoin="round">o</text>
<text transform="translate(753.71 1183.2) scale(1.12 1)" font-family="Liberation Sans" font-weight="normal" font-size="44.97" fill="#000000" stroke="#000" stroke-width="1.1" stroke-linejoin="round">n</text>
<text transform="translate(814.94 1183.2) scale(1.02 1)" font-family="Liberation Sans" font-weight="normal" font-size="45.81" fill="#000000" stroke="#000" stroke-width="1.1" stroke-linejoin="round">v</text>
<text transform="translate(844.16 1183.35) scale(1.12 1)" font-family="Liberation Sans" font-weight="normal" font-size="46.36" fill="#000000" stroke="#000" stroke-width="1.1" stroke-linejoin="round">o</text>
<text transform="translate(882.4 1183.2) scale(1.12 1)" font-family="Liberation Sans" font-weight="normal" font-size="50.92" fill="#000000" stroke="#000" stroke-width="1.1" stroke-linejoin="round">l</text>
<text transform="translate(902.95 1183.15) scale(1.12 1)" font-family="Liberation Sans" font-weight="normal" font-size="45.72" fill="#000000" stroke="#000" stroke-width="1.1" stroke-linejoin="round">u</text>
<text transform="translate(929.34 1183.2) scale(0.96 1)" font-family="Liberation Sans" font-weight="normal" font-size="44.97" fill="#000000" stroke="#000" stroke-width="1.1" stroke-linejoin="round">m</text>
<text transform="translate(968.12 1183.35) scale(1.01 1)" font-family="Liberation Sans" font-weight="normal" font-size="46.36" fill="#000000" stroke="#000" stroke-width="1.1" stroke-linejoin="round">e</text>
<text transform="translate(1034.3 1177.66) scale(1.12 1)" font-family="Liberation Sans" font-weight="normal" font-size="51.41" fill="#000000" stroke="#000" stroke-width="1">(</text>
<text transform="translate(1055.44 1182.64) scale(1.12 1)" font-family="Liberation Sans" font-weight="normal" font-size="44.15" fill="#000000" stroke="#000" stroke-width="1.1" stroke-linejoin="round">p</text>
<text transform="translate(1087.07 1183.2) scale(1.12 1)" font-family="Liberation Sans" font-weight="normal" font-size="45.81" fill="#000000" stroke="#000" stroke-width="1.1" stroke-linejoin="round">v</text>
<text transform="translate(1117.68 1177.66) scale(1.08 1)" font-family="Liberation Sans" font-weight="normal" font-size="51.41" fill="#000000" stroke="#000" stroke-width="1">)</text>
<g transform="rotate(-90)">
<text transform="translate(-871.53 64.64) scale(0.8 1)" font-family="Liberation Sans" font-weight="normal" font-size="57.34" fill="#ff0000">O</text>
<text transform="translate(-828.96 64.8) scale(1.07 1)" font-family="Liberation Sans" font-weight="normal" font-size="55.48" fill="#ff0000">i</text>
<text transform="translate(-797.77 64.8) scale(0.92 1)" font-family="Liberation Sans" font-weight="normal" font-size="54.51" fill="#ff0000">l</text>
<text transform="translate(-743.37 64.8) scale(1.12 1)" font-family="Liberation Sans" font-weight="normal" font-size="49.06" fill="#ff0000">r</text>
<text transform="translate(-715.84 64.93) scale(1.09 1)" font-family="Liberation Sans" font-weight="normal" font-size="48.19" fill="#ff0000">e</text>
<text transform="translate(-684.39 64.93) scale(1.02 1)" font-family="Liberation Sans" font-weight="normal" font-size="48.19" fill="#ff0000">c</text>
<text transform="translate(-656.01 64.93) scale(1.12 1)" font-family="Liberation Sans" font-weight="normal" font-size="48.19" fill="#ff0000">o</text>
<text transform="translate(-622.16 64.8) scale(0.98 1)" font-family="Liberation Sans" font-weight="normal" font-size="48.83" fill="#ff0000">v</text>
<text transform="translate(-593.7 64.93) scale(1.03 1)" font-family="Liberation Sans" font-weight="normal" font-size="48.19" fill="#ff0000">e</text>
<text transform="translate(-559.82 64.8) scale(1.12 1)" font-family="Liberation Sans" font-weight="normal" font-size="49.06" fill="#ff0000">r</text>
<text transform="translate(-531.72 62.84) scale(1.06 1)" font-family="Liberation Sans" font-weight="normal" font-size="45.12" fill="#ff0000">y</text>
<text transform="translate(-469.07 64.6) scale(1.12 1)" font-family="Liberation Sans" font-weight="normal" font-size="49.06" fill="#ff0000">r</text>
<text transform="translate(-442.21 64.52) scale(0.92 1)" font-family="Liberation Sans" font-weight="normal" font-size="48.92" fill="#ff0000">a</text>
<text transform="translate(-408.23 64.48) scale(1.12 1)" font-family="Liberation Sans" font-weight="normal" font-size="53.95" fill="#ff0000">t</text>
<text transform="translate(-381.45 64.72) scale(1.02 1)" font-family="Liberation Sans" font-weight="normal" font-size="49.28" fill="#ff0000">e</text>
<text transform="translate(-311.49 59.41) scale(1.04 1)" font-family="Liberation Sans" font-weight="normal" font-size="52.6" fill="#ff0000" stroke="#fff" stroke-width="0.9">(</text>
<text transform="translate(-287.99 64.66) scale(0.5 1)" font-family="Liberation Sans" font-weight="normal" font-size="58.45" fill="#ff0000" stroke="#fff" stroke-width="0.3">%</text>
<text transform="translate(-258.81 59.41)" font-family="Liberation Sans" font-weight="normal" font-size="52.6" fill="#ff0000" stroke="#fff" stroke-width="0.9">)</text>
</g></svg>
</body></html>
